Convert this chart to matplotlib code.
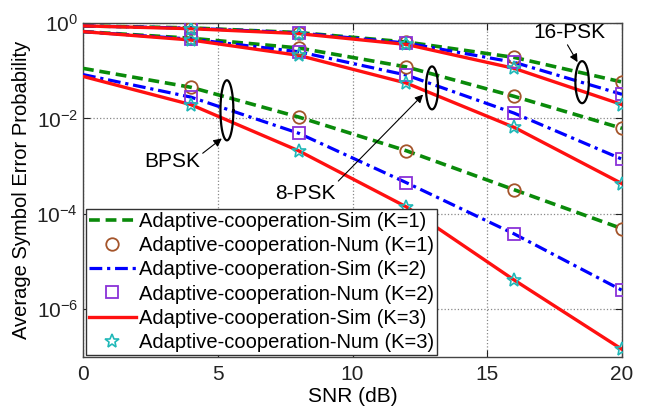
import numpy as np
import matplotlib
matplotlib.use("Agg")
import matplotlib.pyplot as plt

plt.rcParams['font.family'] = ['Liberation Sans', 'DejaVu Sans']
plt.rcParams['mathtext.fontset'] = 'custom'
plt.rcParams['mathtext.rm'] = 'Liberation Sans'

# ---------------- data ----------------
snr_sim = [0, 4, 8, 12, 16, 20]
snr_num = [4, 8, 12, 16, 20]

# BPSK
bpsk_k1 = [1.12e-1, 4.5e-2, 1.07e-2, 2.1e-3, 3.2e-4, 4.9e-5]
bpsk_k2 = [8.3e-2, 2.8e-2, 4.9e-3, 4.5e-4, 3.8e-5, 2.5e-6]
bpsk_k3 = [7.6e-2, 1.95e-2, 2.1e-3, 1.4e-4, 4.1e-6, 1.45e-7]
# 8-PSK
psk8_k1 = [0.66, 0.48, 0.30, 0.12, 2.9e-2, 6.2e-3]
psk8_k2 = [0.66, 0.46, 0.25, 8.1e-2, 1.29e-2, 1.4e-3]
psk8_k3 = [0.66, 0.44, 0.21, 5.5e-2, 6.5e-3, 4.3e-4]
# 16-PSK
psk16_k1 = [0.87, 0.79, 0.63, 0.40, 0.19, 5.8e-2]
psk16_k2 = [0.87, 0.78, 0.62, 0.38, 0.15, 3.2e-2]
psk16_k3 = [0.87, 0.76, 0.60, 0.355, 0.112, 1.95e-2]

legend_labels = ['Adaptive-cooperation-Sim (K=1)', 'Adaptive-cooperation-Num (K=1)',
                 'Adaptive-cooperation-Sim (K=2)', 'Adaptive-cooperation-Num (K=2)',
                 'Adaptive-cooperation-Sim (K=3)', 'Adaptive-cooperation-Num (K=3)']
xtick_vals = [0, 5, 10, 15, 20]
ytick_exps = [-6, -4, -2, 0]

# annotations: (label, text x, text log10 y, ellipse center x, center log10 y, width dB, height decades, arrow x, arrow log10 y)
ann_bpsk = ('BPSK', 3.3, -2.9, 5.34, -1.83, 0.48, 1.26, 5.15, -2.42)
ann_8psk = ('8-PSK', 8.25, -3.57, 12.95, -1.36, 0.45, 0.9, 12.62, -1.5)
ann_16psk = ('16-PSK', 18.05, -0.2, 18.52, -1.24, 0.5, 0.88, 18.35, -0.82)

# ---------------- style ----------------
green = '#0a8a0a'
blue = '#0000ff'
red = '#ff1010'
c_circ = '#a4542a'
c_sq = '#8a32d8'
c_star = '#20b8b8'

fig = plt.figure(figsize=(6.5, 4.09), dpi=100)
ax = fig.add_axes([83/650, 1-357/409, (622-83)/650, (357-23)/409])
ax.set_yscale('log')

groups = [(bpsk_k1, bpsk_k2, bpsk_k3), (psk8_k1, psk8_k2, psk8_k3), (psk16_k1, psk16_k2, psk16_k3)]
for gi, (k1, k2, k3) in enumerate(groups):
    lab = (lambda i: legend_labels[i]) if gi == 0 else (lambda i: '_nolegend_')
    ax.plot(snr_sim, k1, color=green, lw=2.6, dashes=(3.0, 1.6), label=lab(0), zorder=3)
    ax.plot(snr_num, k1[1:], ls='none', marker='o', ms=9, mfc='none', mec=c_circ, mew=1.3, label=lab(1), zorder=5)
    ax.plot(snr_sim, k2, color=blue, lw=2.3, dashes=(4.0, 1.5, 1.0, 1.5), label=lab(2), zorder=3)
    ax.plot(snr_num, k2[1:], ls='none', marker='s', ms=8.5, mfc='none', mec=c_sq, mew=1.3, label=lab(3), zorder=5)
    ax.plot(snr_sim, k3, color=red, lw=2.4, ls='-', label=lab(4), zorder=4)
    ax.plot(snr_num, k3[1:], ls='none', marker='*', ms=10, mfc='none', mec=c_star, mew=1.2, label=lab(5), zorder=5)

ax.set_xlim(0, 20)
ax.set_ylim(1e-7, 1)
ax.set_xticks(xtick_vals)
ax.set_xticklabels([str(v) for v in xtick_vals])
ax.set_yticks([10.0**e for e in ytick_exps])
ax.set_yticklabels([r'$\mathregular{10^{%d}}$' % e for e in ytick_exps])
ax.yaxis.set_minor_locator(matplotlib.ticker.NullLocator())
ax.tick_params(direction='in', length=5, width=0.8, top=True, right=True, labelsize=15, colors='#222222')
ax.tick_params(axis='x', pad=6)
ax.grid(True, ls=':', color='#888888', lw=0.9)
for s in ax.spines.values():
    s.set_color('#444444')
    s.set_linewidth(1.0)

ax.set_xlabel('SNR (dB)', fontsize=15, labelpad=2)
ax.set_ylabel('Average Symbol Error Probability', fontsize=14.5, labelpad=4)

# ellipses and arrows
t = np.linspace(0, 2*np.pi, 200)
for (txt, tx, ty, cx, cy, w, h, axx, ayy), rp in [(ann_bpsk, (0.95, 0.7)), (ann_8psk, (1.0, 1.0)), (ann_16psk, (0.45, 0.0))]:
    ax.plot(cx + w/2*np.cos(t), 10**(cy + h/2*np.sin(t)), color='black', lw=1.6, zorder=6)
    ax.annotate(txt, xy=(axx, 10**ayy), xytext=(tx, 10**ty), fontsize=15, ha='center', va='center',
                arrowprops=dict(arrowstyle='-|>', color='black', lw=0.8, mutation_scale=12,
                                relpos=rp, shrinkA=0, shrinkB=0), zorder=7)

leg = ax.legend(loc='lower left', bbox_to_anchor=(0.006, 0.006), fontsize=14.5, frameon=True,
                fancybox=False, edgecolor='#333333', framealpha=1, handlelength=2.3,
                handletextpad=0.15, labelspacing=0.26, borderpad=0.15, borderaxespad=0)
leg.get_frame().set_linewidth(1.0)
leg.set_zorder(10)

fig.savefig('out.png', dpi=100)
